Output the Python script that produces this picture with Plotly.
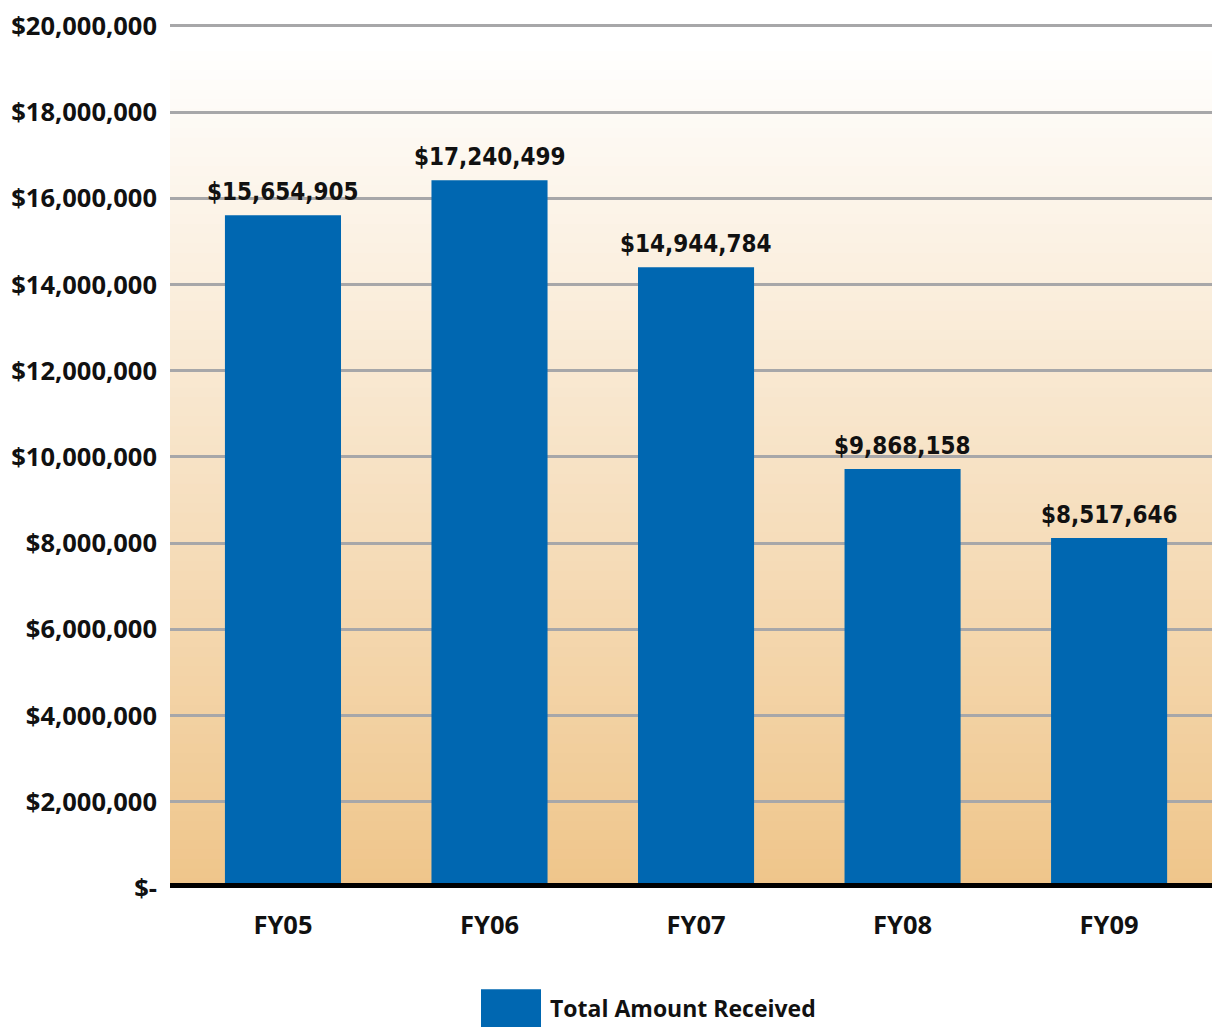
import plotly.graph_objects as go

# ---- data ----
categories = ["FY05", "FY06", "FY07", "FY08", "FY09"]
bar_heights = [15610000, 16420000, 14400000, 9720000, 8120000]   # drawn bar heights
amount_labels = ["$15,654,905", "$17,240,499", "$14,944,784", "$9,868,158", "$8,517,646"]
series_name = "Total Amount Received"
y_tick_vals = [0, 2e6, 4e6, 6e6, 8e6, 10e6, 12e6, 14e6, 16e6, 18e6, 20e6]
y_tick_text = ["$-", "$2,000,000", "$4,000,000", "$6,000,000", "$8,000,000", "$10,000,000",
               "$12,000,000", "$14,000,000", "$16,000,000", "$18,000,000", "$20,000,000"]

BAR_COLOR = "#0067B1"
TICK_FONT = dict(family="Open Sans, Lato, DejaVu Sans", size=25.5, color="#111111")
XTICK_FONT = dict(family="Open Sans, Lato, DejaVu Sans", size=25.5, color="#111111")
LABEL_FONT = dict(family="DejaVu Sans Condensed, Liberation Sans Narrow, DejaVu Sans", size=24, color="#111111")

# page offset (body margin) compensation: figure is drawn at (8, 8) in the window
OFF = 8
PLOT_L, PLOT_R, PLOT_T, ZERO_Y = 170, 1220, 15, 888   # target window pixels
TOP_GRID_Y = 19.0                                      # where the $20M gridline should sit
W, H = 1212, 1021
ml = PLOT_L - OFF
mr = max(W - (PLOT_R - OFF), 0)
mt = PLOT_T - OFF
mb = H - (ZERO_Y - OFF)
plot_w = PLOT_R - PLOT_L
plot_h = ZERO_Y - PLOT_T

def px_x(x):
    return (x - PLOT_L) / plot_w

def px_y(y):
    return (ZERO_Y - y) / plot_h

fig = go.Figure()
fig.add_trace(go.Bar(
    x=categories, y=bar_heights, name=series_name,
    marker=dict(color=BAR_COLOR, line=dict(width=0)),
    width=0.562, showlegend=False, hoverinfo="skip",
))

# data labels above bars
for c, h, t in zip(categories, bar_heights, amount_labels):
    fig.add_annotation(x=c, y=h, text="<b>" + t + "</b>", showarrow=False,
                       yanchor="bottom", yshift=7, font=LABEL_FONT)

shapes = []
# vertical gradient background (tan at bottom -> white at top)
bottom = (239, 197, 138)
N = 90
top_t = 0.975
for i in range(N):
    y0 = i / N
    y1 = (i + 1) / N
    t = min(((y0 + y1) / 2) / top_t, 1.0)
    r = round(bottom[0] + (255 - bottom[0]) * t)
    g = round(bottom[1] + (255 - bottom[1]) * t)
    b = round(bottom[2] + (255 - bottom[2]) * t)
    shapes.append(dict(type="rect", xref="paper", yref="paper", x0=0, x1=1, y0=y0, y1=y1 + 0.002,
                       fillcolor=f"rgb({r},{g},{b})", line=dict(width=0), layer="below"))
# thick black baseline at zero
shapes.append(dict(type="line", xref="paper", yref="y", x0=0, x1=1, y0=0, y1=0,
                   line=dict(color="black", width=10), layer="above"))
# custom legend swatch
shapes.append(dict(type="rect", xref="paper", yref="paper", x0=px_x(481), x1=px_x(541),
                   y0=px_y(1028), y1=px_y(990),
                   fillcolor=BAR_COLOR, line=dict(width=0), layer="above"))
fig.add_annotation(xref="paper", yref="paper", x=px_x(548), y=px_y(1009),
                   xanchor="left", yanchor="middle", showarrow=False,
                   text="<b>" + series_name + "</b>",
                   font=dict(family="Open Sans, Lato, DejaVu Sans", size=23, color="#111111"))

fig.update_layout(
    width=W, height=H,
    margin=dict(l=ml, r=mr, t=mt, b=mb, pad=0),
    paper_bgcolor="white", plot_bgcolor="rgba(0,0,0,0)",
    shapes=shapes, showlegend=False,
)
fig.update_xaxes(range=[-0.547, 4.537], showgrid=False, zeroline=False, showline=False,
                 ticks="", tickfont=XTICK_FONT, ticklabelstandoff=19,
                 tickvals=categories, ticktext=["<b>" + c + "</b>" for c in categories])
fig.update_yaxes(range=[0, 20e6 * plot_h / (ZERO_Y - TOP_GRID_Y)], showgrid=True, gridcolor="#A7A7A9", gridwidth=2.5,
                 zeroline=False, showline=False, ticks="", ticklabeloverflow="allow",
                 tickvals=y_tick_vals, ticktext=["<b>" + t + "</b>" for t in y_tick_text],
                 tickfont=TICK_FONT, ticklabelstandoff=12)

fig.write_html("out.html")
